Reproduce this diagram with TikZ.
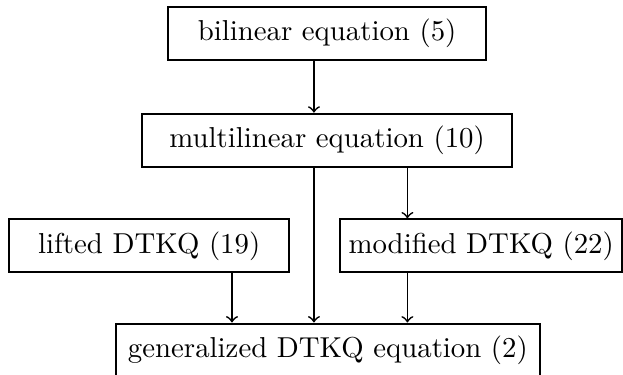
\documentclass[tikz,border=0pt]{standalone}
\usepackage{amsmath,amssymb}
\usetikzlibrary{positioning}

\begin{document}
\begin{tikzpicture}
  [auto=center,every node/.style={draw,rectangle,line width=0.7pt,minimum height=18.4pt,inner sep=3pt}]
  \useasboundingbox (0,0) rectangle (7.6,4.57);

  \node[minimum width=3.88cm] (bil) at (3.99,4.16) {bilinear equation (5)};
  \node[minimum width=4.52cm] (mul) at (3.99,2.86) {multilinear equation (10)};
  \node[minimum width=3.42cm] (lif) at (1.82,1.57) {lifted DTKQ (19)};
  \node[minimum width=3.44cm] (mod) at (5.87,1.57) {modified DTKQ (22)};
  \node[minimum width=5.17cm] (gen) at (4.00,0.30) {generalized DTKQ equation (2)};

  \coordinate (xa) at (2.83,0);
  \coordinate (xb) at (3.83,0);
  \coordinate (xc) at (4.97,0);

  \draw[->,line width=0.6pt] (bil.south -| xb) -- (mul.north -| xb);
  \draw[->,line width=0.6pt] (mul.south -| xb) -- (gen.north -| xb);
  \draw[->,line width=0.6pt] (mul.south -| xc) -- (mod.north -| xc);
  \draw[->,line width=0.6pt] (lif.south -| xa) -- (gen.north -| xa);
  \draw[->,line width=0.6pt] (mod.south -| xc) -- (gen.north -| xc);

\end{tikzpicture}
\end{document}
